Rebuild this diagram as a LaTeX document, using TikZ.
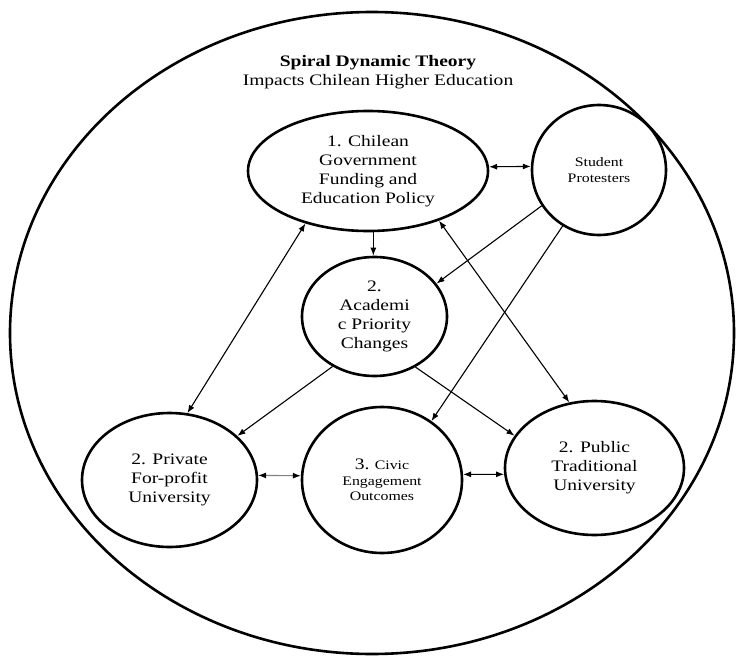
\documentclass[tikz,border=0pt]{standalone}
\usepackage{fontspec}
\setmainfont{Liberation Serif}[FakeStretch=1.22]
\usetikzlibrary{shapes.geometric,arrows.meta}
\begin{document}
\begin{tikzpicture}[x=1pt,y=-1pt,
  bub/.style={ellipse,draw,line width=2.6pt,inner sep=0pt,align=center,
    font=\fontsize{16}{19}\selectfont},
  smallbub/.style={bub,font=\fontsize{13}{15.5}\selectfont},
  conn/.style={line width=1.1pt,-{Latex[length=8pt,width=6pt]}},
  conntwo/.style={line width=1.1pt,{Latex[length=8pt,width=6pt]}-{Latex[length=8pt,width=6pt]}},
  conngrey/.style={line width=1.1pt,draw=black!50,
    {Latex[length=8pt,width=6pt,color=black]}-{Latex[length=8pt,width=6pt,color=black]}}]
\useasboundingbox (0,0) rectangle (739,658);
\node[ellipse,draw,line width=2.6pt,minimum width=724pt,minimum height=642pt,inner sep=0pt] (outer) at (372,333) {};
\node[align=center,font=\fontsize{16}{19}\selectfont] (title) at (378,72.5)
  {\textbf{Spiral Dynamic Theory}\\Impacts Chilean Higher Education};
\node[bub,minimum width=240pt,minimum height=120pt] (gov) at (368,171)
  {1. Chilean\\Government\\Funding and\\Education Policy};
\node[smallbub,minimum width=134pt,minimum height=130pt] (sp) at (599,170)
  {Student\\Protesters};
\node[bub,minimum width=145pt,minimum height=119pt] (ac) at (374.5,316.5)
  {2.\\Academi\\c Priority\\Changes};
\node[bub,minimum width=175pt,minimum height=134pt] (pr) at (169.5,480)
  {2. Private\\For-profit\\University};
\node[smallbub,minimum width=160pt,minimum height=146pt] (civ) at (382,480)
  {{\fontsize{16}{16}\selectfont 3.} Civic\\Engagement\\Outcomes};
\node[bub,minimum width=179pt,minimum height=134pt] (pu) at (594.5,468)
  {2. Public\\Traditional\\University};
\draw[conntwo] (gov.2) -- (sp.177);
\draw[conn] (gov.-85) -- (gov.-85 |- ac.north);
\draw[conn] (sp.-148) -- (ac.28);
\draw[conn] (sp.-123) -- (civ.50);
\draw[conntwo] (gov.-140) -- (pr.75);
\draw[conntwo] (gov.-35) -- (pu.111);
\draw[conn] (ac.-130) -- (pr.33);
\draw[conn] (ac.-51) -- (pu.158);
\draw[conngrey] (pr.3) -- (civ.177);
\draw[conntwo] (civ.4) -- (pu.184);
\end{tikzpicture}
\end{document}
